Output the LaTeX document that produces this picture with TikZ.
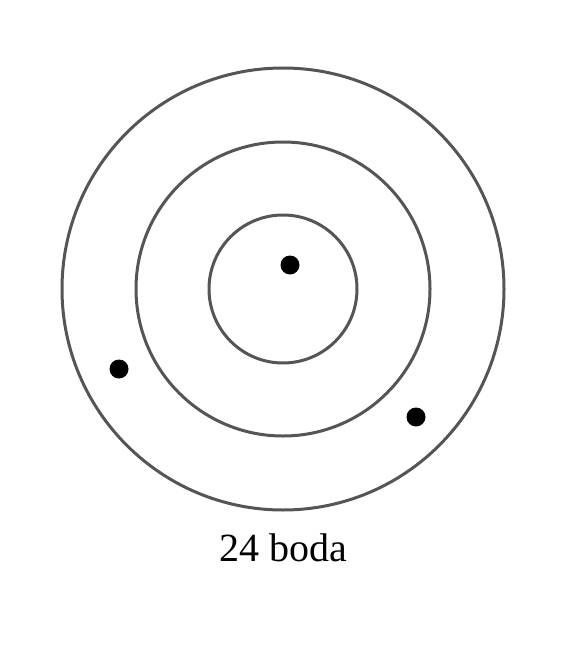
\documentclass[tikz,border=0pt]{standalone}
\usepackage{fontspec}
\setmainfont{Liberation Serif}
\usepackage{tikz}
\usetikzlibrary{positioning}

\tikzset{
    ring/.style={circle, draw=ringgray, line width=3pt, minimum size=#1, inner sep=0pt},
    dot/.style={circle, fill=black, inner sep=0pt, minimum size=19pt}
}
\definecolor{ringgray}{HTML}{555555}

\begin{document}
\begin{tikzpicture}[x=1pt, y=-1pt]
    \useasboundingbox (0,0) rectangle (560,650);

    % Rings
    \node (outer) at (283,289) [ring=442pt] {};
    \node (middle) at (283,289) [ring=294pt] {};
    \node (inner) at (283,289) [ring=148pt] {};

    % Dots
    \node (d1) at (290,265) [dot] {};
    \node (d2) at (119,369) [dot] {};
    \node (d3) at (416,417) [dot] {};

    % Caption
    \node (label) at (283.5,548) [font=\fontsize{40}{46}\selectfont] {24 boda};
\end{tikzpicture}
\end{document}
